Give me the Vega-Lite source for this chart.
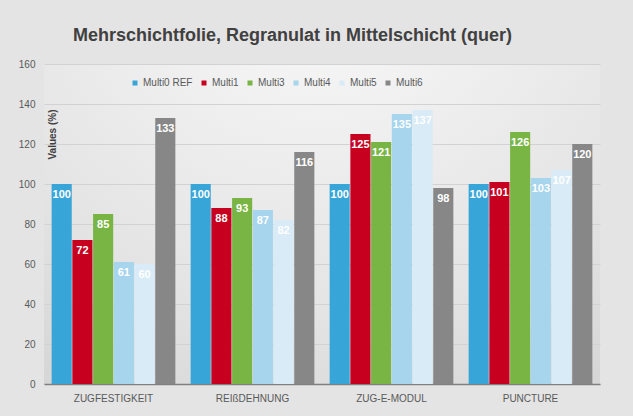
{
  "$schema": "https://vega.github.io/schema/vega-lite/v6.json",
  "autosize": {"type": "none"},
  "width": 556,
  "height": 320,
  "padding": {"left": 44, "top": 64, "right": 33, "bottom": 32},
  "background": "#e4e4e4",
  "config": {
    "font": "Liberation Sans",
    "view": {
      "stroke": null,
      "fill": {
        "gradient": "radial",
        "x1": 0.5, "y1": 0.0, "r1": 0,
        "x2": 0.5, "y2": 0.0, "r2": 1.1,
        "stops": [
          {"offset": 0, "color": "#fbfbfb"},
          {"offset": 0.6, "color": "#e4e4e4"},
          {"offset": 1, "color": "#cdcdcd"}
        ]
      }
    }
  },
  "title": {
    "text": "Mehrschichtfolie, Regranulat in Mittelschicht (quer)",
    "anchor": "start",
    "frame": "group",
    "dx": 29,
    "offset": 14,
    "font": "Liberation Sans",
    "fontSize": 18,
    "fontWeight": "bold",
    "color": "#404040"
  },
  "data": {
    "values": [
      {"cat": "ZUGFESTIGKEIT", "series": "Multi0 REF", "value": 100},
      {"cat": "ZUGFESTIGKEIT", "series": "Multi1", "value": 72},
      {"cat": "ZUGFESTIGKEIT", "series": "Multi3", "value": 85},
      {"cat": "ZUGFESTIGKEIT", "series": "Multi4", "value": 61},
      {"cat": "ZUGFESTIGKEIT", "series": "Multi5", "value": 60},
      {"cat": "ZUGFESTIGKEIT", "series": "Multi6", "value": 133},
      {"cat": "REIßDEHNUNG", "series": "Multi0 REF", "value": 100},
      {"cat": "REIßDEHNUNG", "series": "Multi1", "value": 88},
      {"cat": "REIßDEHNUNG", "series": "Multi3", "value": 93},
      {"cat": "REIßDEHNUNG", "series": "Multi4", "value": 87},
      {"cat": "REIßDEHNUNG", "series": "Multi5", "value": 82},
      {"cat": "REIßDEHNUNG", "series": "Multi6", "value": 116},
      {"cat": "ZUG-E-MODUL", "series": "Multi0 REF", "value": 100},
      {"cat": "ZUG-E-MODUL", "series": "Multi1", "value": 125},
      {"cat": "ZUG-E-MODUL", "series": "Multi3", "value": 121},
      {"cat": "ZUG-E-MODUL", "series": "Multi4", "value": 135},
      {"cat": "ZUG-E-MODUL", "series": "Multi5", "value": 137},
      {"cat": "ZUG-E-MODUL", "series": "Multi6", "value": 98},
      {"cat": "PUNCTURE", "series": "Multi0 REF", "value": 100},
      {"cat": "PUNCTURE", "series": "Multi1", "value": 101},
      {"cat": "PUNCTURE", "series": "Multi3", "value": 126},
      {"cat": "PUNCTURE", "series": "Multi4", "value": 103},
      {"cat": "PUNCTURE", "series": "Multi5", "value": 107},
      {"cat": "PUNCTURE", "series": "Multi6", "value": 120}
    ]
  },
  "encoding": {
    "x": {
      "field": "cat",
      "type": "nominal",
      "sort": null,
      "scale": {"paddingInner": 0.11, "paddingOuter": 0.055},
      "axis": {
        "title": null,
        "labelAngle": 0,
        "labelFontSize": 10,
        "labelColor": "#595959",
        "labelPadding": 9,
        "ticks": false,
        "domainColor": "#7f7f7f",
        "domainWidth": 1.5
      }
    },
    "xOffset": {
      "field": "series",
      "type": "nominal",
      "sort": ["Multi0 REF", "Multi1", "Multi3", "Multi4", "Multi5", "Multi6"],
      "scale": {"paddingInner": 0.03, "paddingOuter": 0}
    },
    "y": {
      "field": "value",
      "type": "quantitative",
      "scale": {"domain": [0, 160]},
      "axis": {
        "title": "Values (%)",
        "titleFontSize": 10,
        "titleFontWeight": "bold",
        "titleColor": "#404040",
        "titleX": 8,
        "titleY": 70,
        "titleAngle": -90,
        "titleAlign": "center",
        "titleBaseline": "middle",
        "values": [0, 20, 40, 60, 80, 100, 120, 140, 160],
        "labelFontSize": 10,
        "labelColor": "#595959",
        "labelPadding": 9,
        "ticks": false,
        "domain": false,
        "gridColor": "#d2d2d2",
        "gridWidth": 1
      }
    }
  },
  "layer": [
    {
      "mark": {"type": "bar"},
      "encoding": {
        "color": {
          "field": "series",
          "type": "nominal",
          "scale": {
            "domain": ["Multi0 REF", "Multi1", "Multi3", "Multi4", "Multi5", "Multi6"],
            "range": ["#38a5d8", "#c8001f", "#79b545", "#a6d5ed", "#d8ebf6", "#878787"]
          },
          "legend": {
            "title": null,
            "orient": "none",
            "direction": "horizontal",
            "legendX": 86,
            "legendY": 14,
            "symbolType": "square",
            "symbolSize": 25,
            "symbolStrokeWidth": 0,
            "labelFontSize": 10,
            "labelColor": "#595959",
            "labelOffset": 3,
            "columnPadding": 6
          }
        }
      }
    },
    {
      "mark": {
        "type": "text",
        "baseline": "top",
        "dy": 5,
        "color": "white",
        "fontWeight": "bold",
        "fontSize": 11
      },
      "encoding": {
        "text": {"field": "value", "type": "quantitative"}
      }
    }
  ]
}
